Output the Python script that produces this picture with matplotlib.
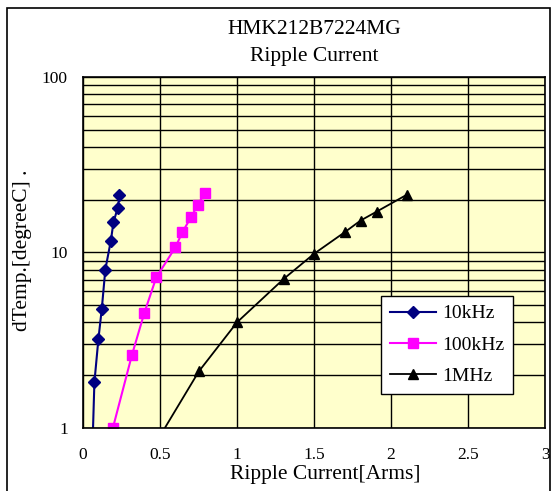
import matplotlib
matplotlib.use('Agg')
import matplotlib.pyplot as plt
from matplotlib.patches import Rectangle

plt.rcParams['font.family'] = ['Liberation Serif', 'DejaVu Serif']

# (points below 1 only carry the line to the axis)
i_10k = [0.055, 0.074, 0.100, 0.122, 0.145, 0.181, 0.198, 0.226, 0.237]
t_10k = [0.5, 1.82, 3.21, 4.77, 8.0, 11.7, 14.9, 18.0, 21.2]
i_100k = [0.194, 0.318, 0.398, 0.476, 0.600, 0.646, 0.702, 0.744, 0.789]
t_100k = [1.0, 2.61, 4.52, 7.22, 10.7, 13.1, 15.9, 18.6, 21.7]
i_1m = [0.50, 0.752, 1.000, 1.303, 1.500, 1.702, 1.802, 1.907, 2.105]
t_1m = [0.9, 2.10, 4.0, 7.07, 9.83, 13.1, 15.2, 17.1, 21.4]
xticks = [0, 0.5, 1, 1.5, 2, 2.5, 3]
xticklabels = ['0', '0.5', '1', '1.5', '2', '2.5', '3']

fig = plt.figure(figsize=(5.55, 4.91), dpi=100)
fig.patches.append(Rectangle((7/555, -0.01), 543/555, 1 - 8/491 + 0.01,
                             transform=fig.transFigure, fill=False,
                             edgecolor='black', linewidth=1.2))

ax = fig.add_axes([83/555, 1 - 428/491, 462/555, 351/491])
ax.set_facecolor('#FFFFCC')

ax.plot(i_10k, t_10k, color='#000080', marker='D', markersize=6, lw=1.5, label='10kHz')
ax.plot(i_100k, t_100k, color='#FF00FF', marker='s', markersize=7, lw=1.5, label='100kHz')
ax.plot(i_1m, t_1m, color='black', marker='^', markersize=7, lw=1.3, label='1MHz')

ax.set_yscale('log')
ax.set_ylim(1, 100)
ax.set_xlim(0, 3)
ax.set_xticks(xticks)
ax.set_xticklabels(xticklabels)
ax.set_yticks([1, 10, 100])
ax.set_yticklabels(['1', '10', '100'])
ax.grid(True, which='both', color='black', lw=1)
ax.tick_params(which='both', length=0, labelsize=12.5)
ax.tick_params(axis='x', pad=14)
ax.tick_params(axis='y', pad=11)
for s in ax.spines.values():
    s.set_color('black')
    s.set_linewidth(1.2)

ax.set_xlabel('Ripple Current[Arms]', fontsize=15.5)
ax.xaxis.set_label_coords((325 - 83)/462, (428 - 475)/351, transform=ax.transAxes)
ax.xaxis.label.set_va('center')
ax.set_ylabel('dTemp.[degreeC] .', fontsize=15.5)
ax.yaxis.set_label_coords((23 - 83)/462, (428 - 250)/351, transform=ax.transAxes)
ax.yaxis.label.set_va('center')

fig.text(314/555, 1 - 30/491, 'HMK212B7224MG', ha='center', va='center', fontsize=15.5)
fig.text(314/555, 1 - 56/491, 'Ripple Current', ha='center', va='center', fontsize=15.5)

leg = ax.legend(loc='upper left', bbox_to_anchor=((381 - 83)/462, (428 - 296)/351),
                borderaxespad=0, fontsize=14,
                frameon=True, fancybox=False, edgecolor='black', framealpha=1,
                handlelength=2.4, labelspacing=0.7, borderpad=0.45, handletextpad=0.3)
leg.get_frame().set_linewidth(1)

fig.savefig('out.png', dpi=100)
